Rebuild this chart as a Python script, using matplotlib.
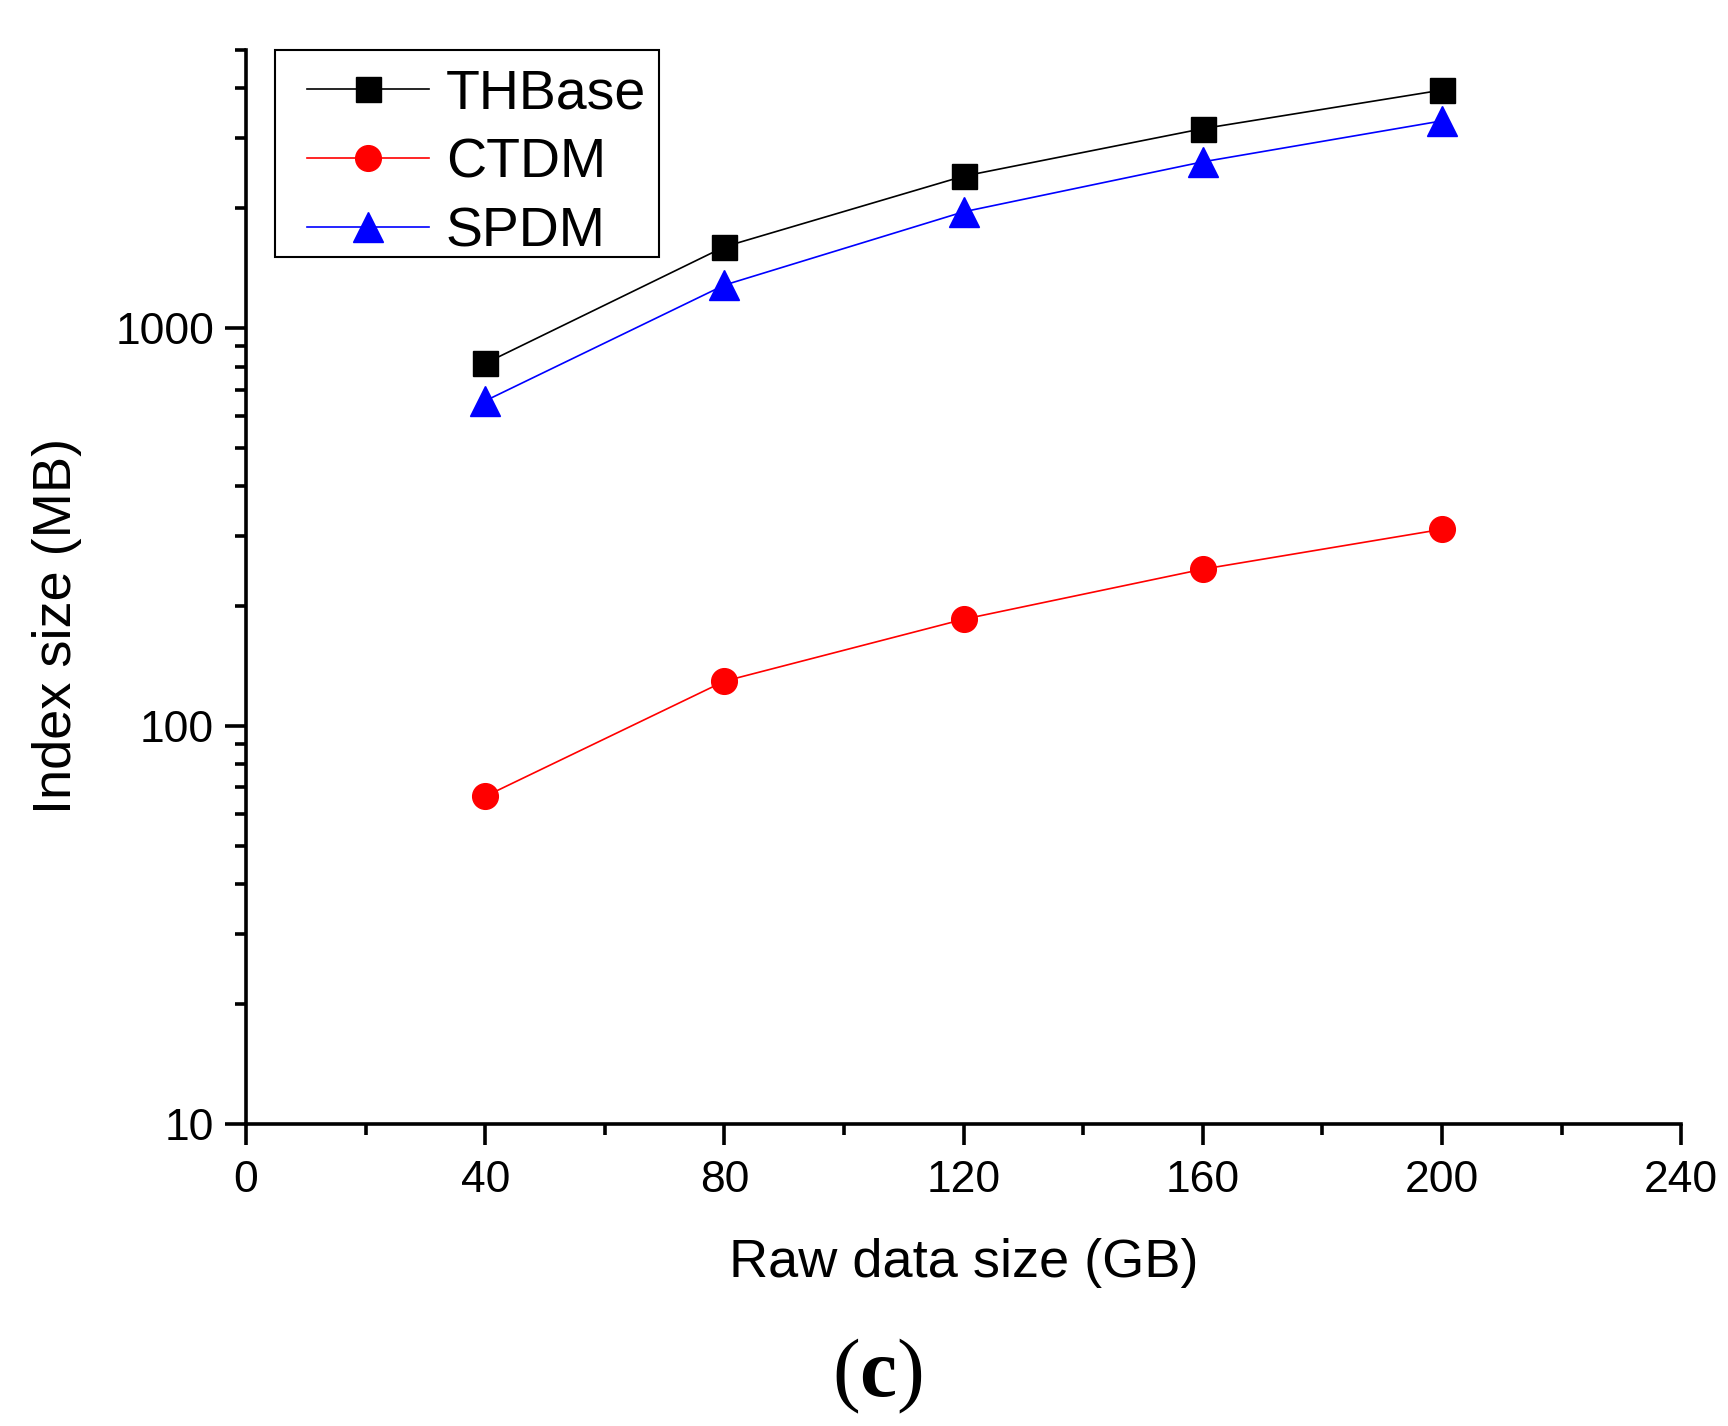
import matplotlib
matplotlib.use("Agg")
import matplotlib.pyplot as plt
from matplotlib.patches import Rectangle
from matplotlib.ticker import FixedLocator, LogLocator, NullFormatter, MultipleLocator

plt.rcParams['font.family'] = ['Liberation Sans', 'DejaVu Sans']
plt.rcParams['mathtext.fontset'] = 'custom'
plt.rcParams['mathtext.rm'] = 'Liberation Serif'
plt.rcParams['mathtext.bf'] = 'Liberation Serif:bold'

# data
raw_size = [40, 80, 120, 160, 200]
thbase = [815, 1600, 2408, 3170, 3963]
ctdm = [66.5, 129.5, 185.3, 247.6, 311.9]
spdm = [656, 1282, 1959, 2616, 3316]
series_names = ['THBase', 'CTDM', 'SPDM']
x_ticks = [0, 40, 80, 120, 160, 200, 240]
y_ticks = [10, 100, 1000]

fig = plt.figure(figsize=(17.28, 14.26), dpi=100)
ax = fig.add_axes([0.1424, 0.212, 0.8305, 0.753])

ax.plot(raw_size, thbase, color='black', lw=1.2, marker='s', ms=18, label=series_names[0])
ax.plot(raw_size, ctdm, color='red', lw=1.2, marker='o', ms=18.5, label=series_names[1])
ax.plot(raw_size, spdm, color='blue', lw=1.2, marker='^', ms=21, label=series_names[2])

ax.set_yscale('log')
ax.set_xlim(0, 240)
ax.set_ylim(10, 5000)

ax.xaxis.set_major_locator(FixedLocator(x_ticks))
ax.xaxis.set_minor_locator(MultipleLocator(20))
ax.yaxis.set_major_locator(FixedLocator(y_ticks))
ax.yaxis.set_minor_locator(LogLocator(base=10, subs=range(2, 10)))
ax.yaxis.set_minor_formatter(NullFormatter())
ax.set_yticklabels([str(v) for v in y_ticks])
ax.set_xticklabels([str(v) for v in x_ticks])

for s in ['top', 'right']:
    ax.spines[s].set_visible(False)
for s in ['left', 'bottom']:
    ax.spines[s].set_linewidth(2.6)

ax.tick_params(which='major', direction='out', length=15, width=2.6, labelsize=32)
ax.tick_params(which='minor', direction='out', length=8, width=2.6)
ax.tick_params(axis='x', which='major', pad=11)
ax.tick_params(axis='y', which='major', pad=8)

ax.set_xlabel('Raw data size (GB)', fontsize=39, va='center')
ax.set_ylabel('Index size (MB)', fontsize=39, va='center')
ax.xaxis.set_label_coords(0.5, -0.13)
ax.yaxis.set_label_coords(-0.132, 0.464)

# legend without its own frame; the box is drawn separately so the
# handles can sit further in from the left edge, as in the original
leg = ax.legend(loc='upper left', bbox_to_anchor=(0.0423, 0.9823), fontsize=40,
                frameon=False, handlelength=2.2, handletextpad=0.3,
                borderpad=0, labelspacing=0.3, borderaxespad=0)
ax.add_patch(Rectangle((0.020, 0.8073), 0.2678, 0.1929, transform=ax.transAxes,
                       fill=False, edgecolor='black', lw=1.5, clip_on=False, zorder=5))

fig.text(0.508, 0.035, r'($\mathbf{c}$)', fontsize=60, family='Liberation Serif',
         ha='center', va='center')

fig.savefig('out.png', dpi=100)
